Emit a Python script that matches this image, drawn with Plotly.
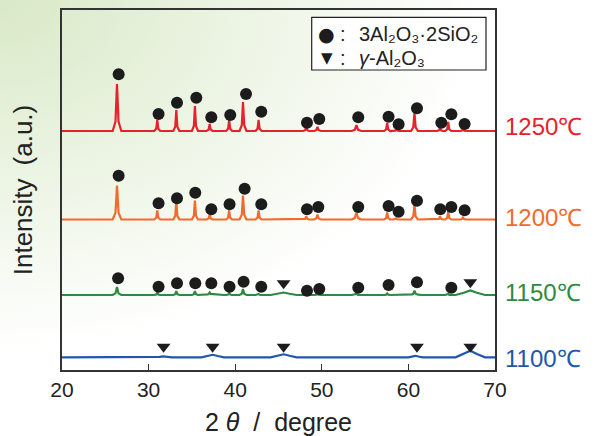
import base64
import numpy as np
import plotly.graph_objects as go

# ---------------- data ----------------
temps = ["1250℃", "1200℃", "1150℃", "1100℃"]
colors = ["#E8212B", "#F26A2C", "#2E8A40", "#2057AE"]
baselines = [239.0, 150.5, 75.0, 12.7]          # vertical offsets of stacked patterns (a.u.)

# mullite (3Al2O3·2SiO2) peak positions (2θ) and half widths
mullite_pos = [26.35, 31.0, 33.2, 35.35, 37.05, 39.3, 40.9, 42.7, 48.2, 49.5,
               54.0, 57.55, 58.6, 60.7, 63.65, 64.6, 66.3]
mullite_hw = [0.5, 0.35, 0.35, 0.35, 0.35, 0.35, 0.4, 0.35, 0.35, 0.4,
              0.55, 0.35, 0.35, 0.4, 0.35, 0.35, 0.35]
# γ-Al2O3 broad peak positions and half widths
gamma_pos = [31.7, 37.4, 45.6, 60.8, 67.15]
gamma_hw = [1.0, 1.3, 1.5, 0.8, 1.7]

# peak heights per series
mullite_h = {
    "1250℃": [47, 11, 21, 25, 7, 11, 29, 11, 4, 4, 6, 8, 2, 18, 3, 9, 2],
    "1200℃": [34, 9, 18, 19, 5, 9, 24, 9, 3, 5, 7, 7, 1, 15, 3, 8, 2],
    "1150℃": [8, 2.5, 4, 4, 2, 2, 6, 1, 1, 1, 1, 1.5, 0, 4, 0, 1, 0],
    "1100℃": [0] * 17,
}
gamma_h = {
    "1250℃": [0, 0, 0, 0, 0],
    "1200℃": [0, 0, 0, 0, 0],
    "1150℃": [0, 0.8, 2.5, 0.5, 4.5],
    "1100℃": [1, 2.5, 3, 1.5, 6.5],
}

# marker annotations (phase identification symbols)
circle_x = {
    "1250℃": [26.54, 31.15, 33.28, 35.51, 37.24, 39.43, 41.25, 43.01, 48.29, 49.71,
              54.21, 57.71, 58.87, 60.99, 63.8, 64.96, 66.49],
    "1200℃": [26.54, 31.15, 33.28, 35.39, 37.24, 39.35, 41.09, 43.01, 48.29, 49.6,
              54.21, 57.71, 58.87, 60.99, 63.68, 64.96, 66.49],
    "1150℃": [26.48, 31.15, 33.28, 35.39, 37.24, 39.35, 40.97, 43.01, 48.29, 49.71,
              54.21, 57.71, 60.99, 64.96],
    "1100℃": [],
}
circle_y = {
    "1250℃": [295.7, 256, 267.3, 272.3, 252.7, 255, 276, 258.3, 247.3, 251,
              252.7, 253.3, 245.7, 261.7, 247.3, 255.7, 246],
    "1200℃": [194.3, 166.7, 171.7, 177.3, 160.7, 165.7, 181.3, 165.7, 160.7, 163,
              163, 164, 158.3, 169.3, 160.7, 163, 159.7],
    "1150℃": [91.7, 83.3, 86.7, 86.7, 86.7, 83.3, 88.3, 83.3, 79.3, 81,
              82.3, 85, 87.7, 82.3],
    "1100℃": [],
}
tri_x = {
    "1250℃": [], "1200℃": [],
    "1150℃": [45.59, 67.15],
    "1100℃": [31.73, 37.39, 45.59, 60.99, 67.15],
}
tri_y = {
    "1250℃": [], "1200℃": [],
    "1150℃": [86.7, 87.7],
    "1100℃": [23.3, 23.3, 23.3, 23.3, 23.3],
}

x_ticks = [20, 30, 40, 50, 60, 70]
label_y = [244, 153, 78, 12]
legend_symbols = ["●", "▼"]
legend_texts = ["3Al₂O₃·2SiO₂", "<i>γ</i>-Al₂O₃"]

# ---------------- build pattern polylines from the peak tables ----------------
SPIKE_U = [-1, -0.35, 0, 0.35, 1]
SPIKE_V = [0, 0.2, 1, 0.2, 0]
BROAD_U = [-1, -0.45, 0, 0.45, 1]
BROAD_V = [0, 0.5, 1, 0.5, 0]


def pattern(base, m_h, g_h):
    peaks = []
    for p, w, h in zip(mullite_pos, mullite_hw, m_h):
        if h > 0:
            peaks.append(([p + u * w for u in SPIKE_U], [v * h for v in SPIKE_V]))
    for p, w, h in zip(gamma_pos, gamma_hw, g_h):
        if h > 0:
            peaks.append(([p + u * w for u in BROAD_U], [v * h for v in BROAD_V]))
    xs = sorted(set([20.0, 70.0] + [x for px, _ in peaks for x in px]))
    xs = np.array(xs)
    ys = np.full_like(xs, base)
    for px, py in peaks:
        ys += np.interp(xs, px, py, left=0, right=0)
    return xs, ys


fig = go.Figure()
for t, c, b in zip(temps, colors, baselines):
    xs, ys = pattern(b, mullite_h[t], gamma_h[t])
    fig.add_trace(go.Scatter(x=xs, y=ys, mode="lines", line=dict(color=c, width=2.2),
                             name=t, showlegend=False, hoverinfo="skip"))

for t in temps:
    if circle_x[t]:
        fig.add_trace(go.Scatter(x=circle_x[t], y=circle_y[t], mode="markers",
                                 marker=dict(symbol="circle", size=12, color="#1c1c1c"),
                                 name="3Al2O3·2SiO2", showlegend=False))
for t in temps:
    if tri_x[t]:
        fig.add_trace(go.Scatter(x=tri_x[t], y=tri_y[t], mode="markers",
                                 marker=dict(symbol="triangle-down", size=12, color="#1c1c1c"),
                                 name="γ-Al2O3", showlegend=False))

for t, c, ly in zip(temps, colors, label_y):
    fig.add_annotation(x=1.0185, y=ly, xref="paper", yref="y", text=t, showarrow=False,
                       xanchor="left", yanchor="middle",
                       font=dict(size=24, color=c, family="Liberation Sans, Arial, sans-serif"))

L, R, T, B = 62, 102, 10, 66
PW, PH = 597 - L - R, 436 - T - B


def px_x(p):
    return (p - L) / PW


def px_y(p):
    return 1 - (p - T) / PH


# key box (legend) for the identification symbols
fig.add_shape(type="rect", xref="paper", yref="paper",
              x0=px_x(311.7), x1=px_x(486), y0=px_y(70), y1=px_y(17.3),
              line=dict(color="#222", width=1.2), fillcolor="white", layer="above")
for i, (sym, txt) in enumerate(zip(legend_symbols, legend_texts)):
    yy = px_y(33.5 + 24.5 * i)
    fig.add_annotation(x=px_x(326.5), y=yy, xref="paper", yref="paper", text=sym,
                       showarrow=False, xanchor="center", yanchor="middle",
                       font=dict(size=19 if i == 0 else 15, color="#1c1c1c", family="DejaVu Sans"))
    fig.add_annotation(x=px_x(338), y=yy, xref="paper", yref="paper", text=":",
                       showarrow=False, xanchor="left", yanchor="middle",
                       font=dict(size=20, color="#222"))
    fig.add_annotation(x=px_x(357), y=yy, xref="paper", yref="paper", text=txt,
                       showarrow=False, xanchor="left", yanchor="middle",
                       font=dict(size=20, color="#222"))

# background gradient (pale green at top-left)
svg = ("<svg xmlns='http://www.w3.org/2000/svg' width='597' height='436' preserveAspectRatio='none'>"
       "<defs><radialGradient id='g' cx='0' cy='0' r='1'>"
       "<stop offset='0' stop-color='#d9e9c7'/><stop offset='0.8' stop-color='#ffffff'/>"
       "</radialGradient></defs><rect width='597' height='436' fill='url(#g)'/></svg>")
src = "data:image/svg+xml;base64," + base64.b64encode(svg.encode()).decode()
fig.add_layout_image(source=src, xref="paper", yref="paper", x=-L / PW, y=1 + T / PH,
                     sizex=597 / PW, sizey=436 / PH, sizing="stretch",
                     xanchor="left", yanchor="top", layer="below")

axis_col = "#333333"
fig.update_layout(
    width=597, height=436,
    margin=dict(l=L, r=R, t=T, b=B),
    paper_bgcolor="white", plot_bgcolor="white",
    showlegend=False,
    font=dict(family="Liberation Sans, Arial, sans-serif", color="#222"),
    xaxis=dict(range=[20, 70], tickvals=x_ticks, ticks="inside", ticklen=6, tickwidth=1.2,
               tickcolor=axis_col, showline=True, linecolor=axis_col, linewidth=1.6,
               mirror=True, showgrid=False, zeroline=False, automargin=False,
               tickfont=dict(size=21, color="#222"),
               title=dict(text="2 <i>θ</i>  /  degree", font=dict(size=25, color="#222"), standoff=14)),
    yaxis=dict(range=[0, 360], showticklabels=False, ticks="", showline=True,
               linecolor=axis_col, linewidth=1.6, mirror=True, showgrid=False, zeroline=False,
               automargin=False,
               title=dict(text="Intensity\u2002(a.u.)", font=dict(size=26, color="#222"), standoff=20)),
)

fig.write_html("out.html")
